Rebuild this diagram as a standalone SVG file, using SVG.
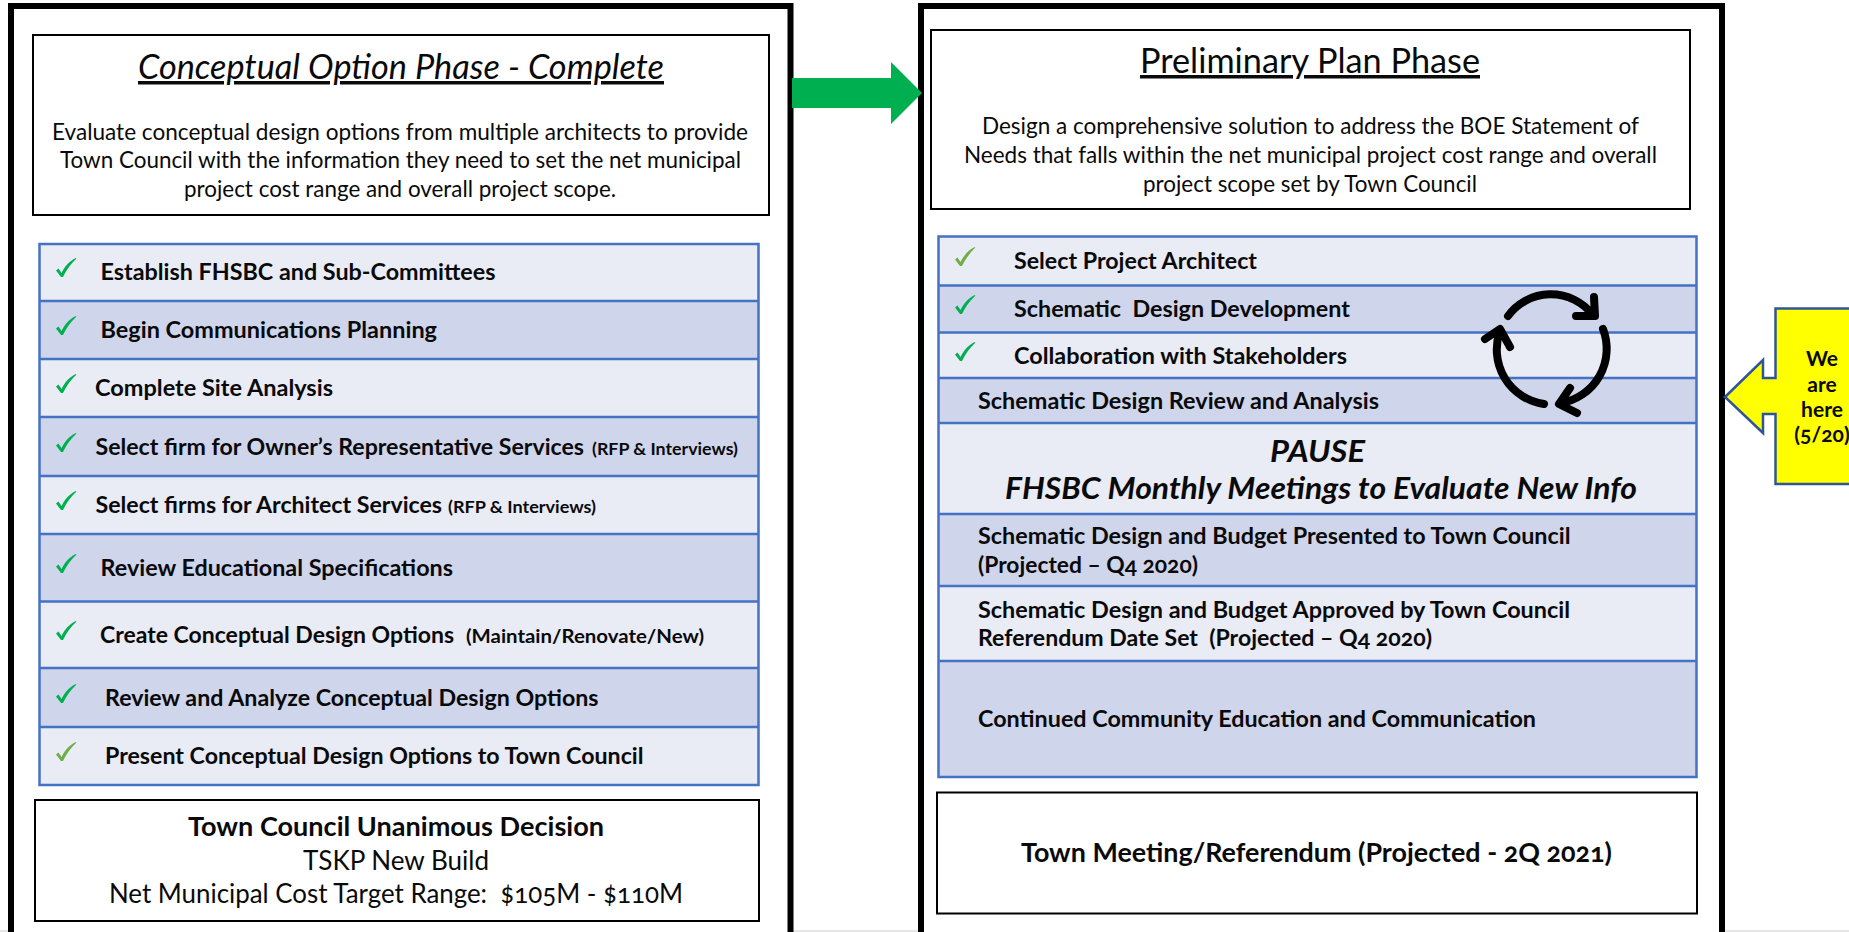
<svg xmlns="http://www.w3.org/2000/svg" xmlns:xlink="http://www.w3.org/1999/xlink" width="1849" height="932" viewBox="0 0 1849 932">
<style>
text{font-family:"Lato","Carlito","Open Sans","Liberation Sans",sans-serif;fill:#0a0a0a;font-variant-numeric:oldstyle-nums;}
.title{font-size:35px}
.it{font-style:italic}
.ul{text-decoration:underline}
.body{font-size:23px}
.row{font-size:23px;font-weight:700}
.small{font-size:17px;font-weight:700}
.pause{font-size:31px;font-weight:700;font-style:italic}
.low{font-size:26px}
.lowb{font-size:26px;font-weight:700}
.call{font-size:21px;font-weight:700;text-anchor:middle}
.outer{fill:#fff;stroke:#000;stroke-width:6}
.box{fill:#fff;stroke:#000;stroke-width:2}
.a{fill:#e9ebf5}
.b{fill:#cfd5ea}
.ln{stroke:#4472c4;stroke-width:2.5;fill:none}
.ck{fill:#00b050}
.ck2{fill:#70ad47}
.cyc{fill:none;stroke:#000;stroke-width:8;stroke-linecap:round;stroke-linejoin:round}
</style>
<defs>
<path id="check" d="M0,12.500 L2.500,10.500 L5.500,15 C9,8 14,2.500 20,0 L20.300,0.800 C15,5.500 10,13 7,19 L5,19 Z"/>
</defs>
<rect width="1849" height="932" fill="#fff"/>
<rect x="0" y="930" width="1849" height="2" fill="#e6e6e6"/>

<g id="conceptual-panel">
<path class="outer" d="M11,932 V6 H790.500 V932"/>
</g>
<g id="preliminary-panel">
<path class="outer" d="M921,932 V6 H1722 V932"/>
</g>

<g id="conceptual-header">
<rect class="box" x="33" y="35" width="736" height="180"/>
<text class="title it ul" x="138" y="79" textLength="526" lengthAdjust="spacingAndGlyphs">Conceptual Option Phase - Complete</text>
<text class="body" x="52" y="140" textLength="696" lengthAdjust="spacingAndGlyphs">Evaluate conceptual design options from multiple architects to provide</text>
<text class="body" x="60" y="168" textLength="681" lengthAdjust="spacingAndGlyphs">Town Council with the information they need to set the net municipal</text>
<text class="body" x="184" y="197" textLength="432" lengthAdjust="spacingAndGlyphs">project cost range and overall project scope.</text>
</g>

<g id="conceptual-tasks">
<rect class="a" x="39.500" y="244" width="719" height="57"/>
<rect class="b" x="39.500" y="301" width="719" height="58"/>
<rect class="a" x="39.500" y="359" width="719" height="58"/>
<rect class="b" x="39.500" y="417" width="719" height="59"/>
<rect class="a" x="39.500" y="476" width="719" height="58"/>
<rect class="b" x="39.500" y="534" width="719" height="67.500"/>
<rect class="a" x="39.500" y="601.500" width="719" height="66.500"/>
<rect class="b" x="39.500" y="668" width="719" height="59"/>
<rect class="a" x="39.500" y="727" width="719" height="58"/>
<path class="ln" d="M39.500,244 H758.500 V785 H39.500 Z M39.500,301 H758.500 M39.500,359 H758.500 M39.500,417 H758.500 M39.500,476 H758.500 M39.500,534 H758.500 M39.500,601.500 H758.500 M39.500,668 H758.500 M39.500,727 H758.500"/>
<use href="#check" class="ck" x="56" y="258"/>
<use href="#check" class="ck" x="56" y="316"/>
<use href="#check" class="ck" x="56" y="374"/>
<use href="#check" class="ck" x="56" y="433"/>
<use href="#check" class="ck" x="56" y="491"/>
<use href="#check" class="ck" x="56" y="554"/>
<use href="#check" class="ck" x="56" y="621"/>
<use href="#check" class="ck" x="56" y="684"/>
<use href="#check" class="ck2" x="56" y="742"/>
<text class="row" x="100.500" y="280" textLength="395" lengthAdjust="spacingAndGlyphs">Establish FHSBC and Sub-Committees</text>
<text class="row" x="100.500" y="338" textLength="336.500" lengthAdjust="spacingAndGlyphs">Begin Communications Planning</text>
<text class="row" x="95" y="396" textLength="238" lengthAdjust="spacingAndGlyphs">Complete Site Analysis</text>
<text class="row" x="95.500" y="455" textLength="488.500" lengthAdjust="spacingAndGlyphs">Select firm for Owner’s Representative Services</text>
<text class="small" x="592" y="455" textLength="146" lengthAdjust="spacingAndGlyphs">(RFP &amp; Interviews)</text>
<text class="row" x="95.500" y="513" textLength="346.500" lengthAdjust="spacingAndGlyphs">Select firms for Architect Services</text>
<text class="small" x="448" y="513" textLength="148" lengthAdjust="spacingAndGlyphs">(RFP &amp; Interviews)</text>
<text class="row" x="100.500" y="576" textLength="352.500" lengthAdjust="spacingAndGlyphs">Review Educational Specifications</text>
<text class="row" x="100" y="643" textLength="354" lengthAdjust="spacingAndGlyphs">Create Conceptual Design Options</text>
<text class="small" x="466" y="643" textLength="238" lengthAdjust="spacingAndGlyphs" style="font-size:19px">(Maintain/Renovate/New)</text>
<text class="row" x="105" y="706" textLength="493.500" lengthAdjust="spacingAndGlyphs">Review and Analyze Conceptual Design Options</text>
<text class="row" x="105" y="764" textLength="538.500" lengthAdjust="spacingAndGlyphs">Present Conceptual Design Options to Town Council</text>
</g>

<g id="conceptual-decision">
<rect class="box" x="35" y="800" width="724" height="121"/>
<text class="lowb" x="188" y="836" textLength="416" lengthAdjust="spacingAndGlyphs">Town Council Unanimous Decision</text>
<text class="low" x="303" y="870" textLength="186" lengthAdjust="spacingAndGlyphs">TSKP New Build</text>
<text class="low" x="109" y="903" xml:space="preserve" textLength="574" lengthAdjust="spacingAndGlyphs">Net Municipal Cost Target Range:  $105M - $110M</text>
</g>

<g id="connectors">
<polygon fill="#00b050" points="792,78 891,78 891,62 922,93 891,124 891,108 792,108"/>
</g>

<g id="preliminary-header">
<rect class="box" x="931" y="30" width="759" height="179"/>
<text class="title ul" x="1140" y="73" textLength="340" lengthAdjust="spacingAndGlyphs">Preliminary Plan Phase</text>
<text class="body" x="982" y="134" textLength="657" lengthAdjust="spacingAndGlyphs">Design a comprehensive solution to address the BOE Statement of</text>
<text class="body" x="964" y="163" textLength="693" lengthAdjust="spacingAndGlyphs">Needs that falls within the net municipal project cost range and overall</text>
<text class="body" x="1143" y="192" textLength="334" lengthAdjust="spacingAndGlyphs">project scope set by Town Council</text>
</g>

<g id="preliminary-tasks">
<rect class="a" x="938.500" y="236.500" width="758" height="49"/>
<rect class="b" x="938.500" y="285.500" width="758" height="47"/>
<rect class="a" x="938.500" y="332.500" width="758" height="45.500"/>
<rect class="b" x="938.500" y="378" width="758" height="45"/>
<rect class="a" x="938.500" y="423" width="758" height="91"/>
<rect class="b" x="938.500" y="514" width="758" height="72"/>
<rect class="a" x="938.500" y="586" width="758" height="75"/>
<rect class="b" x="938.500" y="661" width="758" height="116"/>
<path class="ln" d="M938.500,236.500 H1696.500 V777 H938.500 Z M938.500,285.500 H1696.500 M938.500,332.500 H1696.500 M938.500,378 H1696.500 M938.500,423 H1696.500 M938.500,514 H1696.500 M938.500,586 H1696.500 M938.500,661 H1696.500"/>
<use href="#check" class="ck2" x="955" y="247"/>
<use href="#check" class="ck" x="955" y="295"/>
<use href="#check" class="ck" x="955" y="342"/>
<text class="row" x="1014" y="269" textLength="243" lengthAdjust="spacingAndGlyphs">Select Project Architect</text>
<text class="row" x="1014" y="317" xml:space="preserve" textLength="336" lengthAdjust="spacingAndGlyphs">Schematic  Design Development</text>
<text class="row" x="1014" y="364" textLength="333" lengthAdjust="spacingAndGlyphs">Collaboration with Stakeholders</text>
<text class="row" x="978" y="409" textLength="401" lengthAdjust="spacingAndGlyphs">Schematic Design Review and Analysis</text>
<text class="pause" x="1270" y="461.500" textLength="95" lengthAdjust="spacingAndGlyphs">PAUSE</text>
<text class="pause" x="1005" y="499" textLength="632" lengthAdjust="spacingAndGlyphs">FHSBC Monthly Meetings to Evaluate New Info</text>
<text class="row" x="978" y="544" textLength="592.500" lengthAdjust="spacingAndGlyphs">Schematic Design and Budget Presented to Town Council</text>
<text class="row" x="978" y="573" textLength="220" lengthAdjust="spacingAndGlyphs">(Projected – Q4 2020)</text>
<text class="row" x="978" y="618" textLength="592" lengthAdjust="spacingAndGlyphs">Schematic Design and Budget Approved by Town Council</text>
<text class="row" x="978" y="646" xml:space="preserve" textLength="454" lengthAdjust="spacingAndGlyphs">Referendum Date Set  (Projected – Q4 2020)</text>
<text class="row" x="978" y="727" textLength="558" lengthAdjust="spacingAndGlyphs">Continued Community Education and Communication</text>
</g>

<g id="review-cycle">
<path class="cyc" d="M1508,316 A53,53 0 0 1 1592,314 M1594,297 L1595,316 L1576,316"/>
<path class="cyc" d="M1603,329 A55,55 0 0 1 1561,403 M1570,388 L1559,404 L1577,413"/>
<path class="cyc" d="M1544,404 A55,55 0 0 1 1500,331 M1485,339 L1500,329 L1510,347"/>
</g>

<g id="town-meeting">
<rect class="box" x="937" y="792.500" width="760" height="121"/>
<text class="lowb" x="1021" y="862" textLength="591" lengthAdjust="spacingAndGlyphs">Town Meeting/Referendum (Projected - 2Q 2021)</text>
</g>

<g id="we-are-here">
<polygon fill="#ffff00" stroke="#2f5597" stroke-width="2.500" points="1725,397 1763,360 1763,378 1775.500,378 1775.500,308.500 1851,308.500 1851,484 1775.500,484 1775.500,414 1763,414 1763,433"/>
<text class="call" x="1822" y="366">We</text>
<text class="call" x="1822" y="392">are</text>
<text class="call" x="1822" y="417">here</text>
<text class="call" x="1822" y="442">(5/20)</text>
</g>
</svg>
